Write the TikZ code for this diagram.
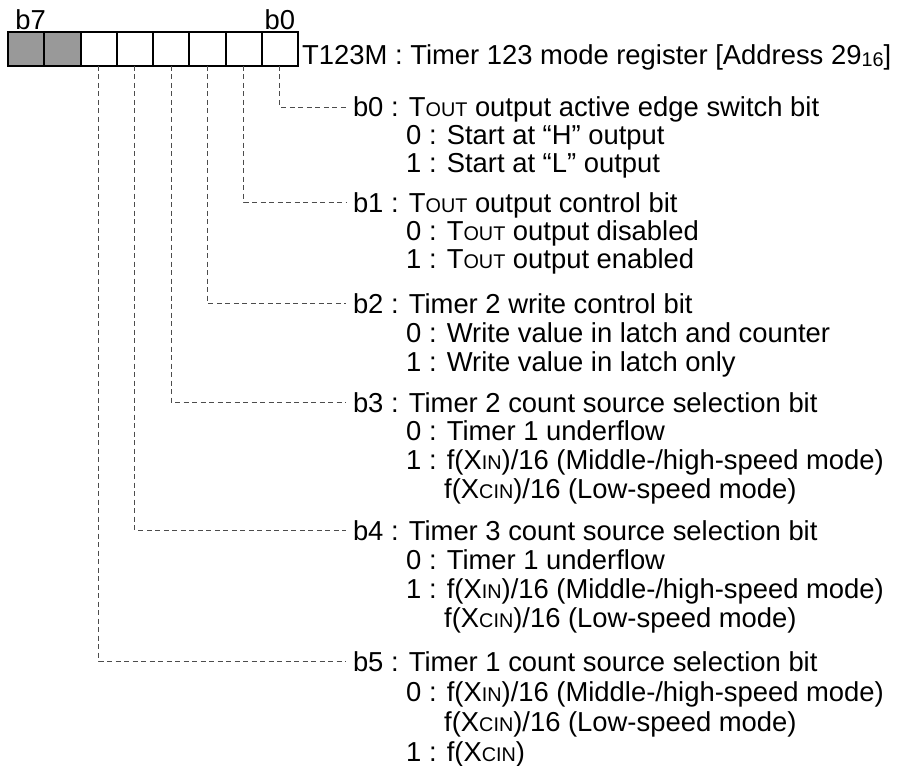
\documentclass[tikz,border=0pt]{standalone}
\usepackage{fontspec}
\setmainfont{Liberation Sans}
\usetikzlibrary{positioning}

\newcommand{\smc}[1]{{\fontsize{19.8}{19.8}\selectfont #1}}

\begin{document}
\begin{tikzpicture}[
  x=1pt, y=-1pt,
  font=\fontsize{27.4}{29}\selectfont,
  cell/.style={draw, line width=2pt, minimum width=36.25pt, minimum height=34pt, inner sep=0pt, outer sep=0pt},
  fixed/.style={cell, fill=black!40},
  lbl/.style={inner sep=0pt},
  bitline/.style={anchor=west, inner sep=0pt, outer xsep=7pt, text height=20pt, text depth=0pt},
  optline/.style={anchor=west, inner sep=0pt, text height=20pt, text depth=0pt},
  guide/.style={dash pattern=on 5pt off 3.5pt, line width=0.9pt, black!70}
]
\useasboundingbox (0,0) rectangle (901,765);

\node[fixed] (r7) at (26.125,49) {};
\node[fixed, right=0pt of r7] (r6) {};
\node[cell, right=0pt of r6] (r5) {};
\node[cell, right=0pt of r5] (r4) {};
\node[cell, right=0pt of r4] (r3) {};
\node[cell, right=0pt of r3] (r2) {};
\node[cell, right=0pt of r2] (r1) {};
\node[cell, right=0pt of r1] (r0) {};

\node[lbl, above=2.5pt of r7, xshift=4.5pt] (t7) {b7};
\node[lbl, above=2.5pt of r0] (t0) {b0};

\node[lbl, anchor=base west] (title) at (302,65) {T123M : Timer 123 mode register [Address 29\raisebox{-1.5pt}{\smc{16}}]};

\node[bitline] (d0) at (346,107) {b0 : T\smc{OUT} output active edge switch bit};
\node[optline] (d0a) at (406,134) {0 : Start at “H” output};
\node[optline] (d0b) at (406,162) {1 : Start at “L” output};

\node[bitline] (d1) at (346,202) {b1 : T\smc{OUT} output control bit};
\node[optline] (d1a) at (406,230) {0 : T\smc{OUT} output disabled};
\node[optline] (d1b) at (406,258) {1 : T\smc{OUT} output enabled};

\node[bitline] (d2) at (346,303) {b2 : Timer 2 write control bit};
\node[optline] (d2a) at (406,332) {0 : Write value in latch and counter};
\node[optline] (d2b) at (406,361) {1 : Write value in latch only};

\node[bitline] (d3) at (346,402) {b3 : Timer 2 count source selection bit};
\node[optline] (d3a) at (406,430) {0 : Timer 1 underflow};
\node[optline] (d3b) at (406,459) {1 : f(X\smc{IN})/16 (Middle-/high-speed mode)};
\node[optline] (d3c) at (444,488) {f(X\smc{CIN})/16 (Low-speed mode)};

\node[bitline] (d4) at (346,530) {b4 : Timer 3 count source selection bit};
\node[optline] (d4a) at (406,559) {0 : Timer 1 underflow};
\node[optline] (d4b) at (406,588) {1 : f(X\smc{IN})/16 (Middle-/high-speed mode)};
\node[optline] (d4c) at (444,617) {f(X\smc{CIN})/16 (Low-speed mode)};

\node[bitline] (d5) at (346,661) {b5 : Timer 1 count source selection bit};
\node[optline] (d5a) at (406,691) {0 : f(X\smc{IN})/16 (Middle-/high-speed mode)};
\node[optline] (d5b) at (444,721) {f(X\smc{CIN})/16 (Low-speed mode)};
\node[optline] (d5c) at (406,751) {1 : f(X\smc{CIN})};

\draw[guide] (r0.south) |- (d0.west);
\draw[guide] (r1.south) |- (d1.west);
\draw[guide] (r2.south) |- (d2.west);
\draw[guide] (r3.south) |- (d3.west);
\draw[guide] (r4.south) |- (d4.west);
\draw[guide] (r5.south) |- (d5.west);

\end{tikzpicture}
\end{document}
